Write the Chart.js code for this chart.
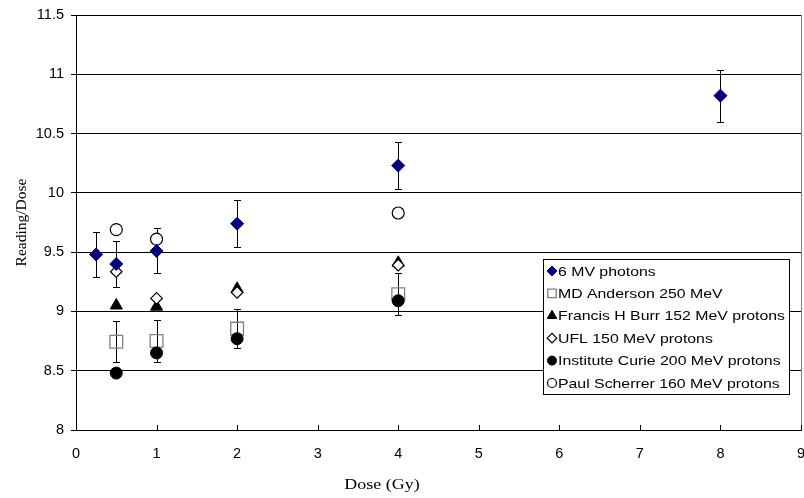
<!DOCTYPE html>
<html>
<head>
<meta charset="utf-8">
<script src="https://cdn.jsdelivr.net/npm/chart.js@4.4.1/dist/chart.umd.min.js"></script>
<style>
  html, body { margin: 0; padding: 0; background: #fff; }
  #wrap { width: 804px; height: 498px; }
</style>
</head>
<body>
<div id="wrap"><canvas id="chart" width="804" height="498"></canvas></div>
<script>
// ===== DATA =====
const yTicks = [8, 8.5, 9, 9.5, 10, 10.5, 11, 11.5];
const xTicks = [0, 1, 2, 3, 4, 5, 6, 7, 8, 9];

const mv6Dose = [0.25, 0.5, 1, 2, 4, 8];
const mv6Ratio = [9.48, 9.40, 9.51, 9.74, 10.23, 10.82];
const mv6Err = [0.19, 0.19, 0.19, 0.20, 0.20, 0.22];

const mdaDose = [0.5, 1, 2, 4];
const mdaRatio = [8.745, 8.75, 8.855, 9.145];
const mdaErr = [0.175, 0.18, 0.165, 0.175];

const fhbDose = [0.5, 1, 2, 4];
const fhbRatio = [9.05, 9.04, 9.19, 9.41];

const uflDose = [0.5, 1, 2, 4];
const uflRatio = [9.335, 9.11, 9.16, 9.39];

const curieDose = [0.5, 1, 2, 4];
const curieRatio = [8.48, 8.65, 8.77, 9.09];

const psiDose = [0.5, 1, 4];
const psiRatio = [9.69, 9.61, 9.83];

const seriesNames = [
  '6 MV photons',
  'MD Anderson 250 MeV',
  'Francis H Burr 152 MeV protons',
  'UFL 150 MeV protons',
  'Institute Curie 200 MeV protons',
  'Paul Scherrer 160 MeV protons'
];

const pts = (xs, ys) => xs.map((x, i) => ({ x, y: ys[i] }));

// ===== DATASETS =====
// order: lower = drawn on top
const datasets = [
  { label: seriesNames[0], data: pts(mv6Dose, mv6Ratio), errors: mv6Err, order: 0,
    pointStyle: 'rectRot', pointRadius: 6.5, backgroundColor: '#000080', borderColor: '#000080', borderWidth: 1,
    legendRadius: 5 },
  { label: seriesNames[1], data: pts(mdaDose, mdaRatio), errors: mdaErr, order: 5,
    pointStyle: 'rect', pointRadius: 9, backgroundColor: 'rgba(0,0,0,0)', borderColor: '#808080', borderWidth: 1.3,
    legendRadius: 6 },
  { label: seriesNames[2], data: pts(fhbDose, fhbRatio), order: 4,
    pointStyle: 'triangle', pointRadius: 7, backgroundColor: '#000', borderColor: '#000', borderWidth: 1,
    legendRadius: 5.5 },
  { label: seriesNames[3], data: pts(uflDose, uflRatio), order: 2,
    pointStyle: 'rectRot', pointRadius: 5.8, backgroundColor: '#fff', borderColor: '#000', borderWidth: 1.2,
    legendRadius: 4.8 },
  { label: seriesNames[4], data: pts(curieDose, curieRatio), order: 1,
    pointStyle: 'circle', pointRadius: 6, backgroundColor: '#000', borderColor: '#000', borderWidth: 1,
    legendRadius: 4.5 },
  { label: seriesNames[5], data: pts(psiDose, psiRatio), order: 3,
    pointStyle: 'circle', pointRadius: 6, backgroundColor: '#fff', borderColor: '#000', borderWidth: 1.2,
    legendRadius: 4.5 }
];
datasets.forEach(d => { d.showLine = false; d.pointHoverRadius = d.pointRadius; });

// text in the reference is drawn a bit wider than tall
const STRETCH = 1.2;

// ===== PLUGINS =====
const errorBars = {
  id: 'errorBars',
  beforeDatasetsDraw(chart) {
    const { ctx, scales: { x, y } } = chart;
    ctx.save();
    ctx.strokeStyle = '#000';
    ctx.lineWidth = 1;
    chart.data.datasets.forEach(ds => {
      if (!ds.errors) return;
      ds.data.forEach((p, i) => {
        const px = Math.round(x.getPixelForValue(p.x)) + 0.5;
        const top = Math.round(y.getPixelForValue(p.y + ds.errors[i])) + 0.5;
        const bot = Math.round(y.getPixelForValue(p.y - ds.errors[i])) + 0.5;
        ctx.beginPath();
        ctx.moveTo(px, top); ctx.lineTo(px, bot);
        ctx.moveTo(px - 3.5, top); ctx.lineTo(px + 3.5, top);
        ctx.moveTo(px - 3.5, bot); ctx.lineTo(px + 3.5, bot);
        ctx.stroke();
      });
    });
    ctx.restore();
  }
};

const frame = {
  id: 'frame',
  beforeDraw(chart) {
    const { ctx, chartArea: a, scales: { x } } = chart;
    ctx.save();
    // right border of the plot area
    ctx.strokeStyle = '#808080';
    ctx.lineWidth = 1;
    ctx.beginPath();
    ctx.moveTo(Math.round(a.right) + 0.5, a.top);
    ctx.lineTo(Math.round(a.right) + 0.5, a.bottom);
    ctx.stroke();
    // inner tick marks on the x axis
    ctx.strokeStyle = '#000';
    ctx.beginPath();
    xTicks.forEach(v => {
      const px = Math.round(x.getPixelForValue(v)) + 0.5;
      ctx.moveTo(px, a.bottom - 5);
      ctx.lineTo(px, a.bottom);
    });
    ctx.stroke();
    ctx.restore();
  },
  afterDraw(chart) {
    const { ctx } = chart;
    ctx.save();
    // x axis title
    ctx.fillStyle = '#000';
    ctx.font = '15px "Liberation Serif", "Times New Roman", serif';
    ctx.textAlign = 'center';
    ctx.textBaseline = 'middle';
    ctx.save();
    ctx.translate(382, 485);
    ctx.scale(STRETCH, 1);
    ctx.fillText('Dose (Gy)', 0, 0);
    ctx.restore();

    // legend box
    const box = { x: 543.5, y: 259.5, w: 246, h: 135 };
    ctx.fillStyle = '#fff';
    ctx.fillRect(box.x, box.y, box.w, box.h);
    ctx.strokeStyle = '#000';
    ctx.lineWidth = 1;
    ctx.strokeRect(box.x, box.y, box.w, box.h);
    ctx.font = '13.2px "Liberation Sans", Arial, sans-serif';
    ctx.textAlign = 'left';
    chart.data.datasets.forEach((ds, i) => {
      const cy = 271 + i * 22.4;
      ctx.fillStyle = ds.backgroundColor;
      ctx.strokeStyle = ds.borderColor;
      ctx.lineWidth = ds.borderWidth;
      Chart.helpers.drawPoint(ctx, { pointStyle: ds.pointStyle, radius: ds.legendRadius, borderWidth: ds.borderWidth }, 552, cy);
      ctx.fillStyle = '#000';
      ctx.save();
      ctx.translate(558, cy + 1);
      ctx.scale(STRETCH, 1);
      ctx.fillText(ds.label, 0, 0);
      ctx.restore();
    });
    ctx.restore();
  }
};

// ===== CHART =====
new Chart(document.getElementById('chart'), {
  type: 'scatter',
  data: { datasets },
  plugins: [errorBars, frame],
  options: {
    responsive: false,
    animation: false,
    layout: { autoPadding: false, padding: { top: 15, right: 3, bottom: 0, left: 0 } },
    plugins: { legend: { display: false }, tooltip: { enabled: false } },
    scales: {
      x: {
        type: 'linear', min: 0, max: 9,
        afterBuildTicks: s => { s.ticks = xTicks.map(v => ({ value: v })); },
        afterFit: s => { s.height = 68; s.paddingRight = 0; s.paddingLeft = 0; },
        grid: { display: false, drawTicks: false },
        border: { color: '#000', width: 1 },
        ticks: { color: '#000', padding: 15, maxRotation: 0, callback: v => String(v),
                 font: { family: '"Liberation Sans", Arial, sans-serif', size: 14.5 } }
      },
      y: {
        type: 'linear', min: 8, max: 11.5,
        afterBuildTicks: s => { s.ticks = yTicks.map(v => ({ value: v })); },
        afterFit: s => { s.width = 76; s.paddingTop = 0; s.paddingBottom = 0; },
        grid: { color: '#000', lineWidth: 1, tickLength: 5 },
        border: { color: '#000', width: 1 },
        ticks: { color: '#000', padding: 7, callback: v => String(v),
                 font: { family: '"Liberation Sans", Arial, sans-serif', size: 14.5 } },
        title: { display: true, text: 'Reading/Dose', color: '#000', padding: { top: 13, bottom: 0 },
                 font: { family: '"Liberation Serif", "Times New Roman", serif', size: 15.5 } }
      }
    }
  }
});
</script>
</body>
</html>
